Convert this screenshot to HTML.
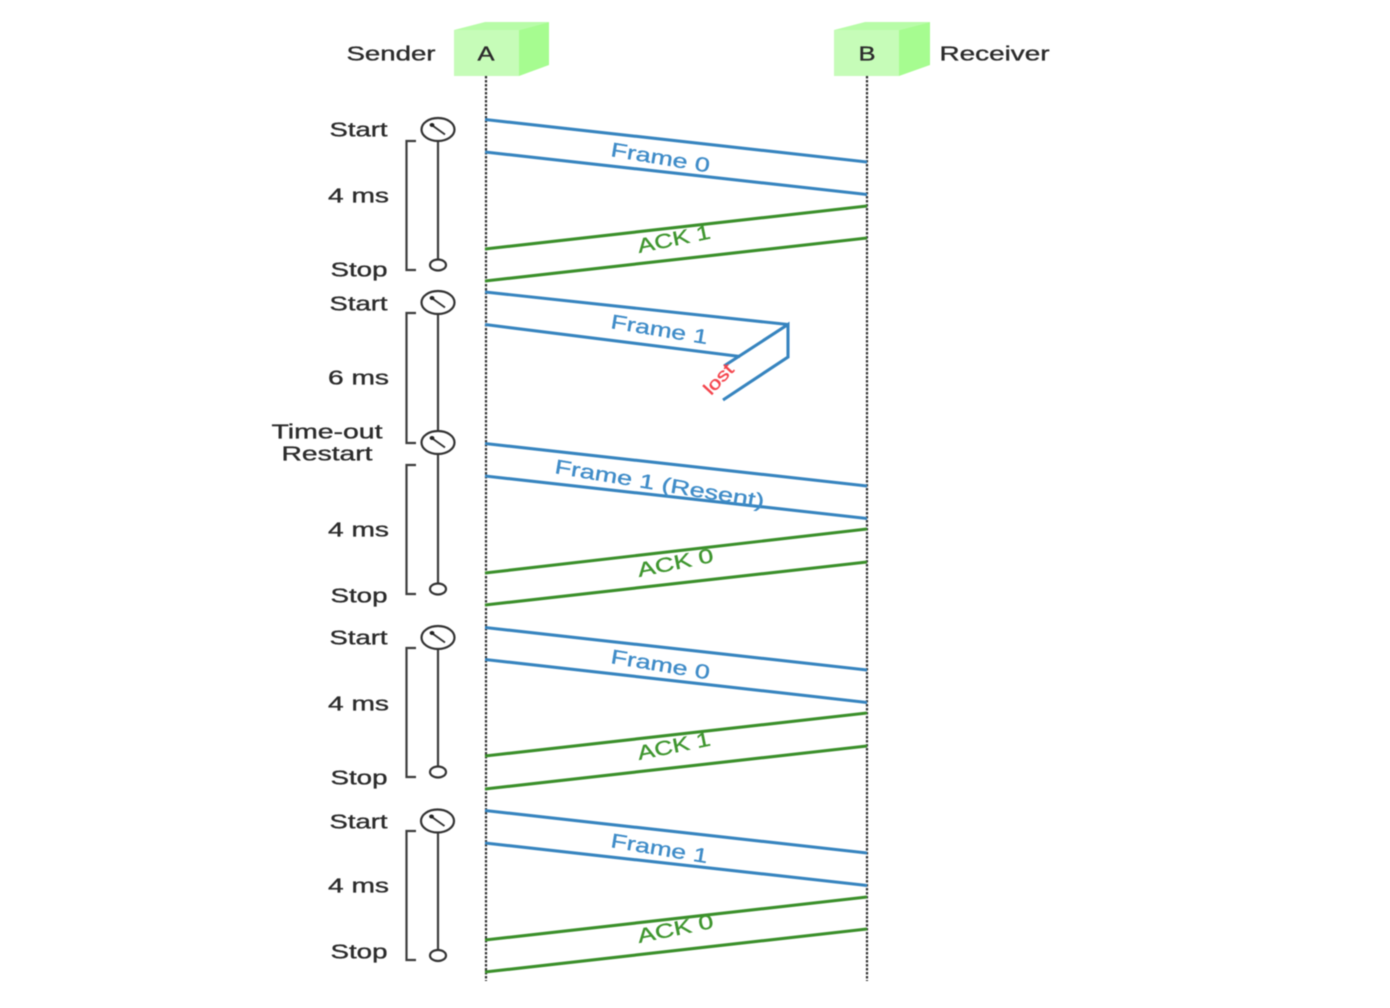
<!DOCTYPE html>
<html>
<head>
<meta charset="utf-8">
<style>
html,body{margin:0;padding:0;background:#fff;width:1390px;height:1008px;overflow:hidden}
svg{display:block;filter:blur(0.55px)}
text{font-family:"Liberation Sans",sans-serif;font-size:20px;fill:#2b2b2b;stroke:#2b2b2b;stroke-width:.35}
.b line,.b polyline{stroke:#3684bf;stroke-width:3.1;fill:none}
.g line{stroke:#3a8f2a;stroke-width:3.1}
.k line,.k polyline{stroke:#3c3c3c;stroke-width:2.2;fill:none}
.k ellipse{stroke:#333;stroke-width:2.2;fill:#fff}
.tb{fill:#3f8cc8;stroke:#3f8cc8}
.tg{fill:#3f962f;stroke:#3f962f}
</style>
</head>
<body>
<svg width="1390" height="1008" viewBox="0 0 1390 1008" xmlns="http://www.w3.org/2000/svg">
<defs>
<g id="clock">
<ellipse cx="0" cy="0" rx="16.5" ry="11.5" fill="#fff" stroke="#333" stroke-width="2.2"/>
<line x1="-7" y1="-5" x2="7" y2="5" stroke="#333" stroke-width="1.9"/>
<ellipse cx="-6" cy="-4.5" rx="2.4" ry="2" fill="#222"/>
</g>
</defs>

<polygon points="454,30 485,22 549,22 519,30" fill="#b8fca8"/>
<polygon points="519,30 549,22 549,65 519,76" fill="#a6fc90"/>
<rect x="454" y="30" width="65" height="46" fill="#c6fcb8"/>
<polygon points="834,30 865,22 930,22 899,30" fill="#b8fca8"/>
<polygon points="899,30 930,22 930,65 899,76" fill="#a6fc90"/>
<rect x="834" y="30" width="65" height="46" fill="#c6fcb8"/>

<g stroke="#333" stroke-width="2.2" stroke-dasharray="2.5 1.5">
<line x1="486" y1="76" x2="486" y2="981"/>
<line x1="867" y1="76" x2="867" y2="981"/>
</g>

<g class="k">
<line x1="438" y1="140" x2="438" y2="260"/>
<line x1="438" y1="313" x2="438" y2="431"/>
<line x1="438" y1="453" x2="438" y2="584"/>
<line x1="438" y1="648" x2="438" y2="767"/>
<line x1="438" y1="832" x2="438" y2="950"/>
<polyline points="416,141 406.500,141 406.500,270 416,270"/>
<polyline points="416,313 406.500,313 406.500,443 416,443"/>
<polyline points="416,465 406.500,465 406.500,594 416,594"/>
<polyline points="416,648 406.500,648 406.500,777 416,777"/>
<polyline points="416,831 406.500,831 406.500,960 416,960"/>
<use href="#clock" x="438" y="129.500"/>
<use href="#clock" x="438" y="302.500"/>
<use href="#clock" x="438" y="442.500"/>
<use href="#clock" x="438" y="637.500"/>
<use href="#clock" x="437.500" y="821"/>
<ellipse cx="438" cy="265" rx="8" ry="5.500"/>
<ellipse cx="438" cy="589" rx="8" ry="5.500"/>
<ellipse cx="438" cy="772" rx="8" ry="5.500"/>
<ellipse cx="438" cy="955.500" rx="8" ry="5.500"/>
</g>

<g class="b">
<line x1="485" y1="119.500" x2="867" y2="162"/>
<line x1="485" y1="152" x2="867" y2="194.500"/>
<line x1="485" y1="292" x2="788" y2="324.500"/>
<line x1="485" y1="324.500" x2="740" y2="356.500"/>
<polyline points="724,366 788,324.500 788,357 723,400"/>
<line x1="485" y1="443.500" x2="867" y2="486"/>
<line x1="485" y1="476" x2="867" y2="518.500"/>
<line x1="485" y1="627.500" x2="867" y2="670"/>
<line x1="485" y1="659.500" x2="867" y2="702.500"/>
<line x1="485" y1="810.500" x2="867" y2="853"/>
<line x1="485" y1="843" x2="867" y2="885.500"/>
</g>
<g class="g">
<line x1="485" y1="249" x2="867" y2="206"/>
<line x1="485" y1="281" x2="867" y2="238"/>
<line x1="485" y1="573" x2="867" y2="529"/>
<line x1="485" y1="605" x2="867" y2="562"/>
<line x1="485" y1="756" x2="867" y2="713"/>
<line x1="485" y1="789" x2="867" y2="746"/>
<line x1="485" y1="940" x2="867" y2="897"/>
<line x1="485" y1="972" x2="867" y2="929"/>
</g>

<text x="346.500" y="60.500" textLength="89" lengthAdjust="spacingAndGlyphs">Sender</text>
<text x="477.500" y="60.500" textLength="17" lengthAdjust="spacingAndGlyphs">A</text>
<text x="858.500" y="60.500" textLength="17" lengthAdjust="spacingAndGlyphs">B</text>
<text x="939.500" y="60.500" textLength="110" lengthAdjust="spacingAndGlyphs">Receiver</text>

<text x="329.500" y="136.500" textLength="58" lengthAdjust="spacingAndGlyphs">Start</text>
<text x="328" y="202.500" textLength="61" lengthAdjust="spacingAndGlyphs">4 ms</text>
<text x="330.500" y="276.500" textLength="57" lengthAdjust="spacingAndGlyphs">Stop</text>
<text x="329.500" y="310.500" textLength="58" lengthAdjust="spacingAndGlyphs">Start</text>
<text x="328" y="384.500" textLength="61" lengthAdjust="spacingAndGlyphs">6 ms</text>
<text x="271.500" y="438.500" textLength="111" lengthAdjust="spacingAndGlyphs">Time-out</text>
<text x="281.500" y="460.500" textLength="91" lengthAdjust="spacingAndGlyphs">Restart</text>
<text x="328" y="536.500" textLength="61" lengthAdjust="spacingAndGlyphs">4 ms</text>
<text x="330.500" y="602.500" textLength="57" lengthAdjust="spacingAndGlyphs">Stop</text>
<text x="329.500" y="644.500" textLength="58" lengthAdjust="spacingAndGlyphs">Start</text>
<text x="328" y="710.500" textLength="61" lengthAdjust="spacingAndGlyphs">4 ms</text>
<text x="330.500" y="784.500" textLength="57" lengthAdjust="spacingAndGlyphs">Stop</text>
<text x="329.500" y="828.500" textLength="58" lengthAdjust="spacingAndGlyphs">Start</text>
<text x="328" y="892.500" textLength="61" lengthAdjust="spacingAndGlyphs">4 ms</text>
<text x="330.500" y="958.500" textLength="57" lengthAdjust="spacingAndGlyphs">Stop</text>

<text class="tb" transform="translate(610,156) rotate(9.500)" textLength="100" lengthAdjust="spacingAndGlyphs">Frame 0</text>
<text class="tb" transform="translate(610,328) rotate(9.500)" textLength="98" lengthAdjust="spacingAndGlyphs">Frame 1</text>
<text class="tb" transform="translate(554,473) rotate(9.500)" textLength="212" lengthAdjust="spacingAndGlyphs">Frame 1 (Resent)</text>
<text class="tb" transform="translate(610,663) rotate(9.500)" textLength="100" lengthAdjust="spacingAndGlyphs">Frame 0</text>
<text class="tb" transform="translate(610,847) rotate(9.500)" textLength="98" lengthAdjust="spacingAndGlyphs">Frame 1</text>
<text class="tg" transform="translate(639,253) rotate(-11.500)" textLength="74" lengthAdjust="spacingAndGlyphs">ACK 1</text>
<text class="tg" transform="translate(639,577) rotate(-11.500)" textLength="77" lengthAdjust="spacingAndGlyphs">ACK 0</text>
<text class="tg" transform="translate(639,760) rotate(-11.500)" textLength="74" lengthAdjust="spacingAndGlyphs">ACK 1</text>
<text class="tg" transform="translate(639,943) rotate(-11.500)" textLength="77" lengthAdjust="spacingAndGlyphs">ACK 0</text>
<text transform="translate(711,396) rotate(-47)" textLength="35" lengthAdjust="spacingAndGlyphs" style="fill:#f4444c;stroke:#f4444c;font-size:18px">lost</text>
</svg>
</body>
</html>
